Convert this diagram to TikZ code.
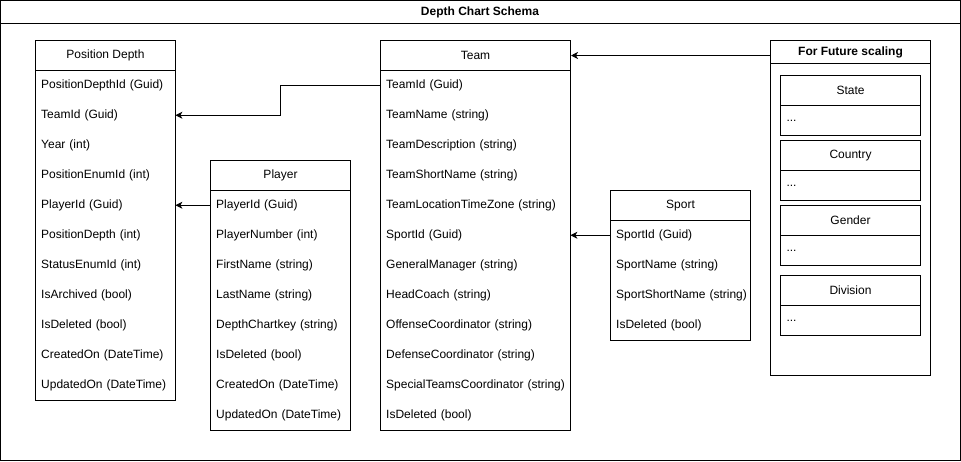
\documentclass[tikz,border=0pt]{standalone}
\usepackage{fontspec}
\setmainfont{Liberation Sans}
\usetikzlibrary{arrows.meta}
\tikzset{
  tblhead/.style={draw, line width=1pt, anchor=north west, inner sep=0pt, minimum height=30pt, minimum width=#1},
  tblfield/.style={anchor=north west, inner xsep=6pt, inner ysep=0pt, minimum height=30pt, text width=#1, align=left},
  fk/.style={line width=1pt, -{Stealth[length=7pt,width=7pt,inset=2pt]}},
}
\begin{document}
\begin{tikzpicture}[x=1pt,y=-1pt,font=\fontsize{12}{14}\selectfont]
\useasboundingbox (0,0) rectangle (961,461);
%frame
\draw [line width=1pt] (0.5,0.5) rectangle (960.5,460.5);
\draw [line width=1pt] (0.5,23) -- (960.5,23);
\node[font=\fontsize{12}{14}\selectfont\bfseries] (title) at (480,12) {Depth Chart Schema};
%Position Depth
\draw [line width=1pt] (35,40) rectangle (175,400);
\node[tblhead=140pt] (pdh) at (35,40) {Position Depth};
\foreach \f [count=\i] in {PositionDepthId (Guid),TeamId (Guid),Year (int),PositionEnumId (int),PlayerId (Guid),PositionDepth (int),StatusEnumId (int),IsArchived (bool),IsDeleted (bool),CreatedOn (DateTime),UpdatedOn (DateTime)}
  \node[tblfield=128pt] (pd\i) at (35,{70+30*(\i-1)}) {\mbox{\f}};
%Player
\draw [line width=1pt] (210,160) rectangle (350,430);
\node[tblhead=140pt] (plh) at (210,160) {Player};
\foreach \f [count=\i] in {PlayerId (Guid),PlayerNumber (int),FirstName (string),LastName (string),DepthChartkey (string),IsDeleted (bool),CreatedOn (DateTime),UpdatedOn (DateTime)}
  \node[tblfield=128pt] (pl\i) at (210,{190+30*(\i-1)}) {\mbox{\f}};
%Team
\draw [line width=1pt] (380,40) rectangle (570,430);
\node[tblhead=190pt] (tmh) at (380,40) {Team};
\foreach \f [count=\i] in {TeamId (Guid),TeamName (string),TeamDescription (string),TeamShortName (string),TeamLocationTimeZone (string),SportId (Guid),GeneralManager (string),HeadCoach (string),OffenseCoordinator (string),DefenseCoordinator (string),SpecialTeamsCoordinator (string),IsDeleted (bool)}
  \node[tblfield=178pt] (tm\i) at (380,{70+30*(\i-1)}) {\mbox{\f}};
%Sport
\draw [line width=1pt] (610,190) rectangle (750,340);
\node[tblhead=140pt] (sph) at (610,190) {Sport};
\foreach \f [count=\i] in {SportId (Guid),SportName (string),SportShortName (string),IsDeleted (bool)}
  \node[tblfield=128pt] (sp\i) at (610,{220+30*(\i-1)}) {\mbox{\f}};
%For Future scaling
\draw [line width=1pt] (770,40) rectangle (930,375);
\node[tblhead=160pt, minimum height=23pt, font=\fontsize{12}{14}\selectfont\bfseries] (fut) at (770,40) {For Future scaling};
\foreach \n/\y in {State/75,Country/140,Gender/205,Division/275} {
  \node[tblhead=140pt] (\n) at (780,\y) {\n};
  \node[tblfield=128pt, draw, line width=1pt] (\n-row) at (780,\y+30) {...};
}
%links
\draw [fk] (tm1.west) -- ++(-100,0) |- (pd2.east);
\draw [fk] (pl1.west) -- (pd5.east);
\draw [fk] (sp1.west) -- (tm6.east);
\draw [fk] (fut.west |- tmh.east) -- (tmh.east);
\end{tikzpicture}
\end{document}
